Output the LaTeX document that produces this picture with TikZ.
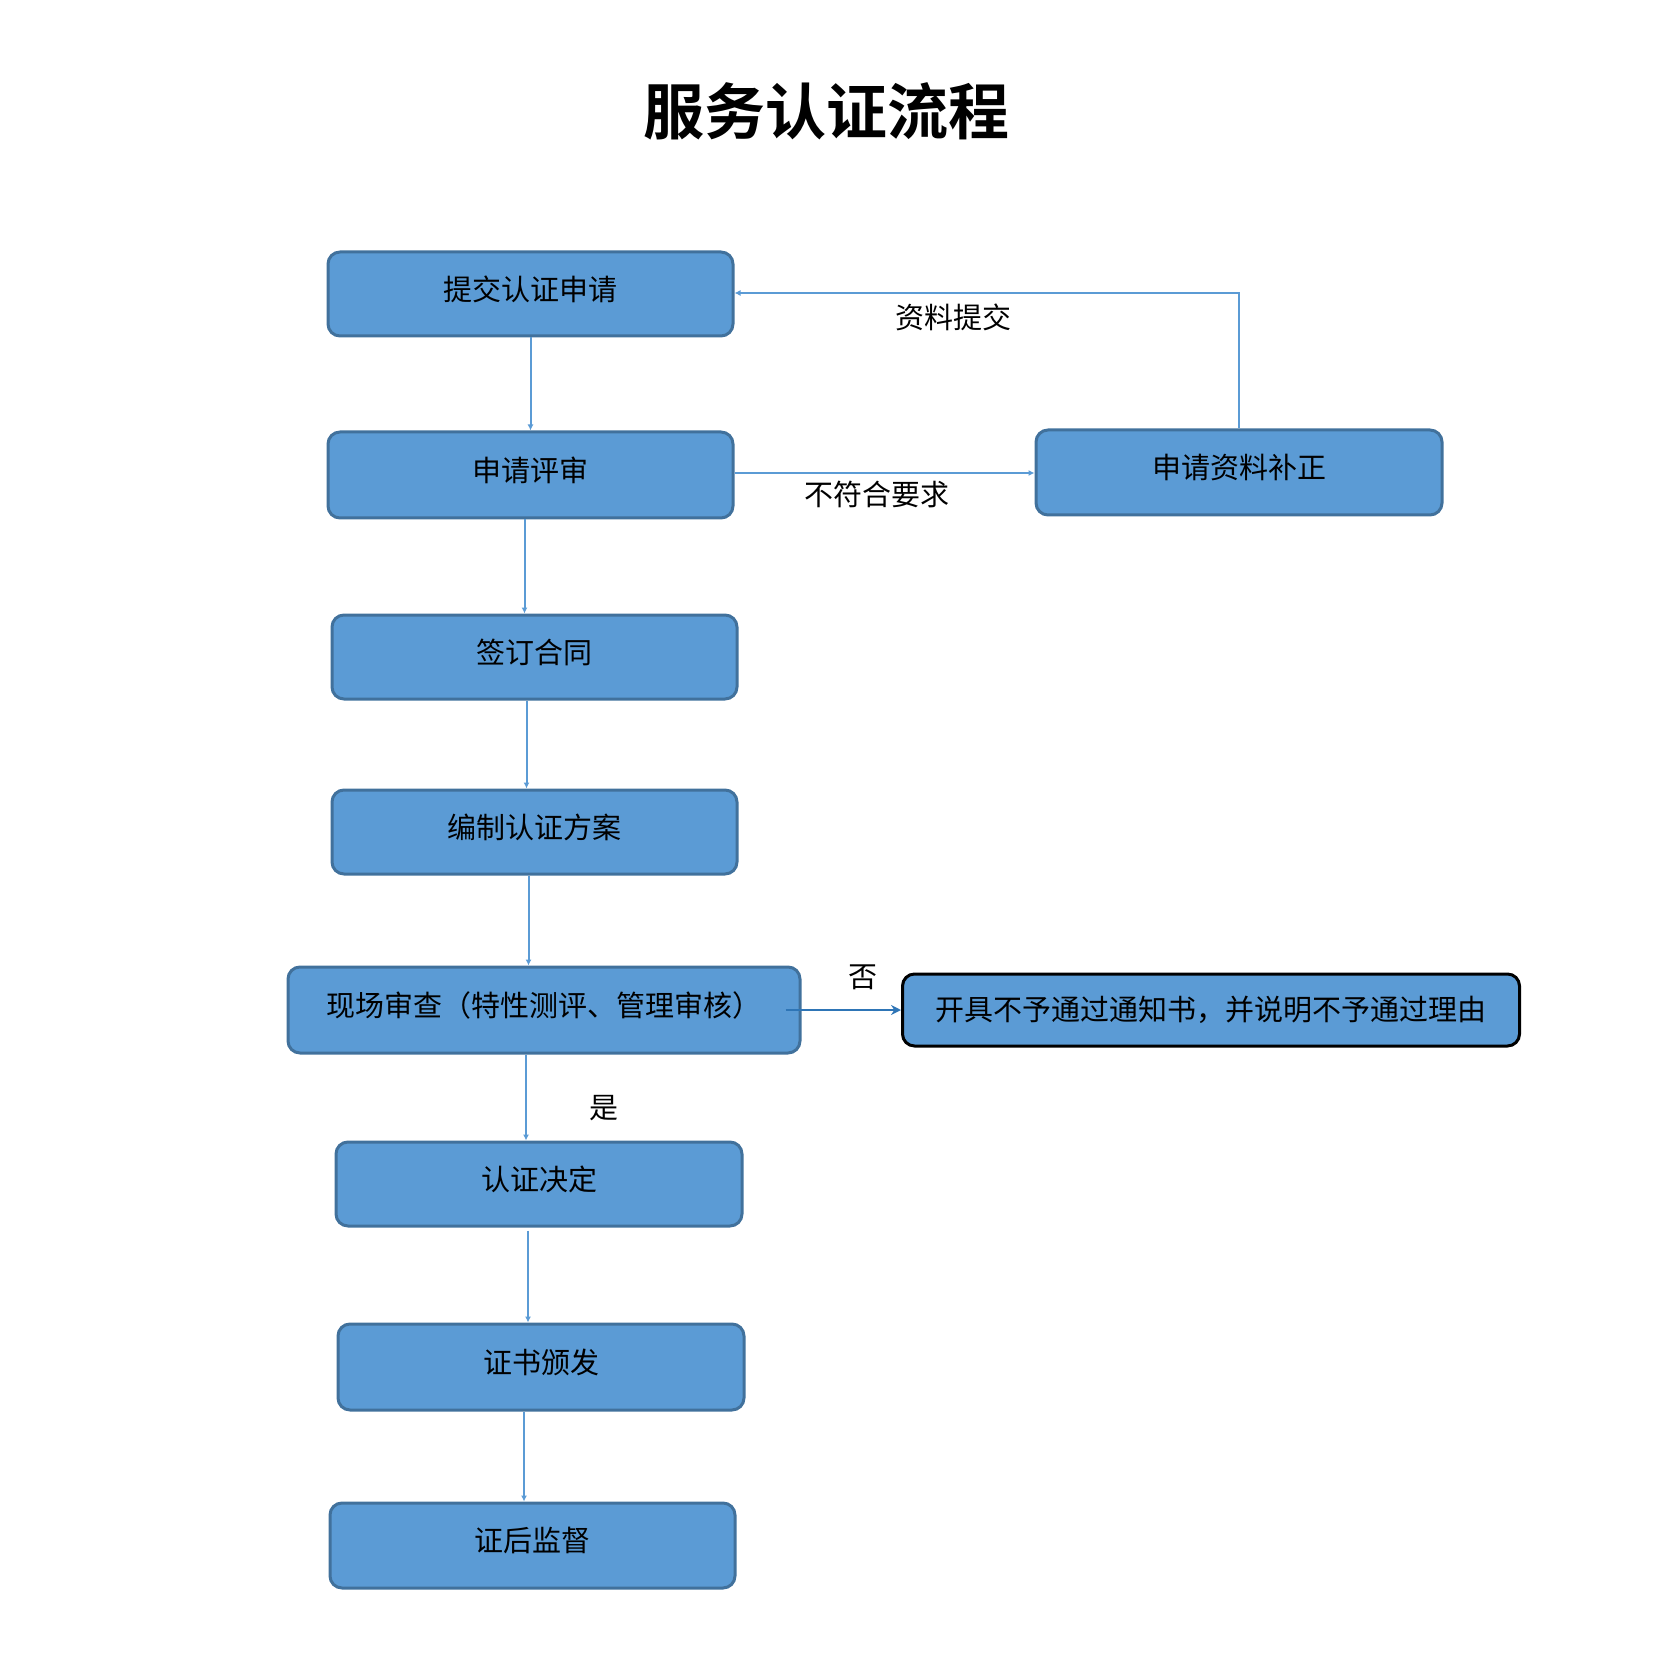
\documentclass[tikz,border=0pt]{standalone}
\usepackage{fontspec}
\setmainfont{Noto Sans CJK SC}
\newfontfamily\titlefont{Noto Sans CJK SC}[BoldFont={* Bold}]
\usetikzlibrary{arrows.meta}
\definecolor{boxfill}{HTML}{5B9BD5}
\definecolor{boxdraw}{HTML}{41719C}
\definecolor{linelight}{HTML}{5B9BD5}
\definecolor{linedark}{HTML}{2E75B6}
\tikzset{
  flowbox/.style={draw=boxdraw, fill=boxfill, line width=1.5pt, rounded corners=6pt,
    inner sep=0pt, minimum width=#1*0.5pt, text=black,
    font=\fontsize{14.5}{17}\selectfont},
  flowbox/.default=405,
  conn/.style={draw=linelight, line width=1pt, -{Latex[length=3pt,width=3pt]}},
  lbl/.style={inner sep=0pt, font=\fontsize{14.5}{17}\selectfont, text=black},
}
\newcommand{\up}[1]{\raisebox{6pt}{#1}}
\begin{document}
\begin{tikzpicture}[x=0.5pt,y=-0.5pt]
\useasboundingbox (0,0) rectangle (1654,1673);
\node[inner sep=0pt, font=\titlefont\bfseries\fontsize{30.5}{36}\selectfont] (title) at (826,111) {服务认证流程};

\node[flowbox, minimum height=42pt] (b1) at (530.5,294) {\up{提交认证申请}};
\node[flowbox, minimum height=43pt] (b2) at (530.5,475) {\up{申请评审}};
\node[flowbox, minimum height=42pt] (b3) at (534.5,657) {\up{签订合同}};
\node[flowbox, minimum height=42pt] (b4) at (534.5,832) {\up{编制认证方案}};
\node[flowbox=512, minimum height=43pt] (b5) at (544,1010) {\up{现场审查（特性测评、管理审核）}};
\node[flowbox=406, minimum height=42pt] (b6) at (539,1184) {\up{认证决定}};
\node[flowbox=406, minimum height=43pt] (b7) at (541,1367) {\up{证书颁发}};
\node[flowbox, minimum height=42.5pt] (b8) at (532.5,1545.5) {\up{证后监督}};
\node[flowbox=406, minimum height=42.5pt] (b9) at (1239,472.5) {\up{申请资料补正}};
\node[flowbox=617, minimum height=36pt, draw=black] (b10) at (1211,1010) {开具不予通过通知书，并说明不予通过理由};

% vertical connectors
\draw[conn] (b1.south) -- (b2.north);
\draw[conn] ([xshift=-3pt]b2.south) -- ([xshift=-3pt]b2.south |- b3.north);
\draw[conn] ([xshift=-4pt]b3.south) -- ([xshift=-4pt]b3.south |- b4.north);
\draw[conn] ([xshift=-3pt]b4.south) -- ([xshift=-3pt]b4.south |- b5.north);
\draw[conn] ([xshift=-9pt]b5.south) -- ([xshift=-9pt]b5.south |- b6.north);
\draw[conn] ([xshift=-5.5pt,yshift=-1.5pt]b6.south) -- ([xshift=-5.5pt]b6.south |- b7.north);
\draw[conn] ([xshift=-8.5pt]b7.south) -- ([xshift=-8.5pt]b7.south |- b8.north);

% side connectors
\draw[conn] ([yshift=1pt]b2.east) -- ([yshift=1pt]b2.east -| b9.west);
\coordinate (c1) at (1239,293);
\draw[conn] (b9.north) -- (c1) -- (c1 -| b1.east);
\draw[draw=linedark, line width=1.4pt, -{Stealth[length=5pt,width=5pt]}] ([xshift=-8pt]b5.east) -- (b10.west);

% labels
\node[lbl] (l1) at (953,317) {资料提交};
\node[lbl] (l2) at (877,494) {不符合要求};
\node[lbl] (l3) at (863,977) {否};
\node[lbl] (l4) at (604,1108) {是};
\end{tikzpicture}
\end{document}
